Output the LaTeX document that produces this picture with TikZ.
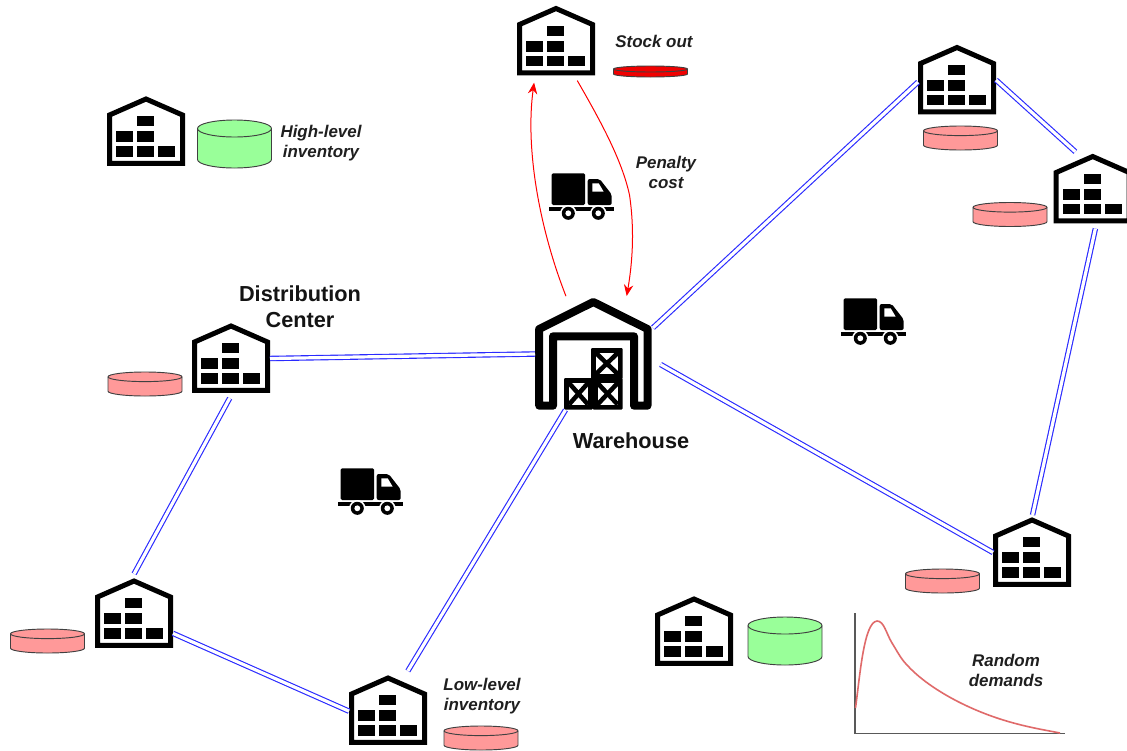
\documentclass[tikz,border=0pt]{standalone}
\usepackage{fontspec}
\setmainfont{Liberation Sans}
\usetikzlibrary{arrows.meta}
\definecolor{linkblue}{HTML}{2A2AFF}
\definecolor{tankpink}{HTML}{FF9999}
\definecolor{tankgreen}{HTML}{99FF99}
\definecolor{tankred}{HTML}{F00000}
\definecolor{curvered}{HTML}{E06A6A}
\tikzset{
  slot/.style={inner sep=0pt,outer sep=0pt,minimum width=#1},
  link/.style={draw=linkblue,line width=0.85pt,double=white,double distance=2.4pt},
  redarrow/.style={draw=red,line width=0.75pt,-{Stealth[length=8.5pt,width=7pt]}},
  caption/.style={font=\fontsize{12.7}{15}\selectfont\bfseries\itshape,align=center,inner sep=0pt,text=black!88},
  heading/.style={font=\fontsize{16.3}{19.5}\selectfont\bfseries,align=center,inner sep=0pt,text=black!92},
}
\newcommand{\depot}[3]{%
  \node[slot=58.5pt,minimum height=52.5pt] (#1) at (#2,#3) {};
  \begin{scope}[shift={(#1.center)}]
    \draw[line width=3.75pt,miter limit=10] (-36.5,31.8) -- (-36.5,-16.5) -- (0,-32.5) -- (36.5,-16.5) -- (36.5,31.8) -- cycle;
    \fill (-30,14.7) rectangle (-12.7,25.3);
    \fill (-8.7,14.7) rectangle (8.3,25.3);
    \fill (12,14.7) rectangle (29.3,25.3);
    \fill (-30,-0.3) rectangle (-12.7,10.7);
    \fill (-8.7,-0.3) rectangle (8.3,10.7);
    \fill (-8.7,-15.3) rectangle (8.3,-5.3);
  \end{scope}}
% name, cx, cy, half height (px), lid ry (px), fill
\newcommand{\tankc}[6]{%
  \node[slot=55.5pt,minimum height=#4*1.5pt] (#1) at (#2,#3) {};
  \begin{scope}[shift={(#1.center)}]
    \pgfmathsetmacro{\tankt}{-#4+#5}
    \pgfmathsetmacro{\tankb}{#4-#5}
    \pgfmathsetmacro{\tankr}{#5*0.75}
    \draw[draw=black!75,line width=0.7pt,fill=#6]
      (-37,\tankt) -- (-37,\tankb)
      arc[start angle=180,end angle=360,x radius=27.75pt,y radius=\tankr pt]
      -- (37,\tankt)
      arc[start angle=0,end angle=180,x radius=27.75pt,y radius=\tankr pt] -- cycle;
    \draw[draw=black!75,line width=0.7pt] (-37,\tankt)
      arc[start angle=180,end angle=360,x radius=27.75pt,y radius=\tankr pt];
  \end{scope}}
\newcommand{\truckc}[3]{%
  \node[slot=48pt,minimum height=34pt] (#1) at (#2,#3) {};
  \begin{scope}[shift={(#1.center)}]
    \fill[rounded corners=1pt] (-30,-22.2) rectangle (3.3,9.5);
    \fill[rounded corners=1.5pt] (6,-16.5) -- (18,-16.5) -- (30,-1) -- (30,9.5) -- (6,9.5) -- cycle;
    \fill[white] (10.6,-12.2) -- (17,-12.2) -- (22,-3.8) -- (10.6,-3.8) -- cycle;
    \fill (-32.4,11.2) rectangle (32.3,15.2);
    \foreach \wx in {-13.4,16.6}{
      \fill[white] (\wx,17.8) circle[radius=6.2pt];
      \fill (\wx,17.8) circle[radius=4.9pt];
      \fill[white] (\wx,17.8) circle[radius=2.2pt];
    }
  \end{scope}}
\newcommand{\cratec}[4]{%
  \fill[rounded corners=0.8pt] (#1,#2) rectangle (#3,#4);
  \fill[white] (#1+5,#2+5) rectangle (#3-5,#4-5);
  \draw[line width=3.4pt] (#1+5,#2+5) -- (#3-5,#4-5) (#1+5,#4-5) -- (#3-5,#2+5);
}
\begin{document}
\begin{tikzpicture}[x=0.75pt,y=-0.75pt]
\useasboundingbox (0,0) rectangle (1127,750);
\fill[white] (0,0) rectangle (1127,750);

% central warehouse
\node[slot=88.5pt,minimum height=84pt] (wh) at (594,354) {};
\draw[line width=6pt,line join=round]
  (553,405.7) -- (553,336.3) -- (634,336.3) -- (634,405.7) -- (647.5,405.7) -- (647.5,329)
  -- (593.3,302) -- (539.2,329) -- (539.2,405.7) -- cycle;
\cratec{591}{348}{622.7}{379}
\cratec{564}{378}{593}{409.5}
\cratec{592.5}{378}{622.7}{409.5}

% depots
\depot{sd}{556}{41}
\depot{hi}{146}{131.5}
\depot{tr}{957}{80}
\depot{rt}{1092.7}{189}
\depot{dc}{231}{358.5}
\depot{bl}{134}{613.5}
\depot{bo}{388}{710.5}
\depot{br}{1032}{552.5}
\depot{lg}{694}{631.5}

% tanks
\tankc{tsd}{650.5}{71.5}{5.5}{3}{tankred}
\tankc{thi}{234.5}{144}{24}{8.5}{tankgreen}
\tankc{ttr}{960.5}{138}{12}{4.8}{tankpink}
\tankc{trt}{1010}{214.5}{12}{4.8}{tankpink}
\tankc{tdc}{145}{384}{12}{4.8}{tankpink}
\tankc{tbl}{47.5}{641}{12}{4.8}{tankpink}
\tankc{tbr}{942.5}{581}{12}{4.8}{tankpink}
\tankc{tbo}{481}{738}{12}{4.8}{tankpink}
\tankc{tlg}{785}{641}{24}{8.5}{tankgreen}

% trucks
\truckc{ta}{581.7}{195.5}
\truckc{tb}{873.7}{320.5}
\truckc{tc}{370.7}{490.5}

% blue links
\draw[link] (dc.0) -- (wh.180);
\draw[link,shorten <=4pt,shorten >=4pt] (dc.-88) -- (bl.94);
\draw[link] (bl.-27) -- (bo.181);
\draw[link,shorten >=4pt] (wh.243.4) -- (bo.64);
\draw[link,shorten <=6.5pt] (wh.-6.3) -- (br.180);
\draw[link] (wh.24) -- (tr.183);
\draw[link,shorten >=2.5pt] (tr.0) -- (rt.113.5);
\draw[link,shorten <=3.5pt,shorten >=2pt] (rt.276.5) -- (br.90);

% red arrows
\draw[redarrow,shorten <=1.5pt,shorten >=5pt] (wh.116.6) .. controls (540,230) and (525,150) .. (sd.239);
\coordinate (pbend) at (629.5,195);
\draw[draw=red,line width=0.75pt,shorten <=4pt] (sd.298.5) .. controls (600,120) and (622,160) .. (pbend);
\draw[redarrow,shorten >=1.5pt] (pbend) .. controls (635,232) and (632,265) .. (wh.60.3);

% demand curve
\draw[draw=black!65,line width=1.1pt] (855,613) -- (855,733.5) -- (1065,733.5);
\draw[draw=curvered,line width=1.2pt,line join=round]
  (855.5,708) .. controls (860,675) and (864,622) .. (877,621)
  .. controls (884,621) and (886,633) .. (892,643)
  .. controls (897,651) and (901,659) .. (907,665)
  .. controls (925,685) and (960,706) .. (1000,719)
  .. controls (1025,727) and (1045,730) .. (1060,733);

% labels
\node[caption] (lsd) at (654,41) {Stock out};
\node[caption] (lpc) at (666,172) {Penalty\\cost};
\node[caption] (lhi) at (321,143) {High-level\\inventory};
\node[caption] (llo) at (482,696) {Low-level\\inventory};
\node[caption] (lrd) at (1006,670) {Random\\demands};
\node[heading] (ldc) at (300,307) {Distribution\\Center};
\node[heading] (lwh) at (631,441) {Warehouse};
\end{tikzpicture}
\end{document}
